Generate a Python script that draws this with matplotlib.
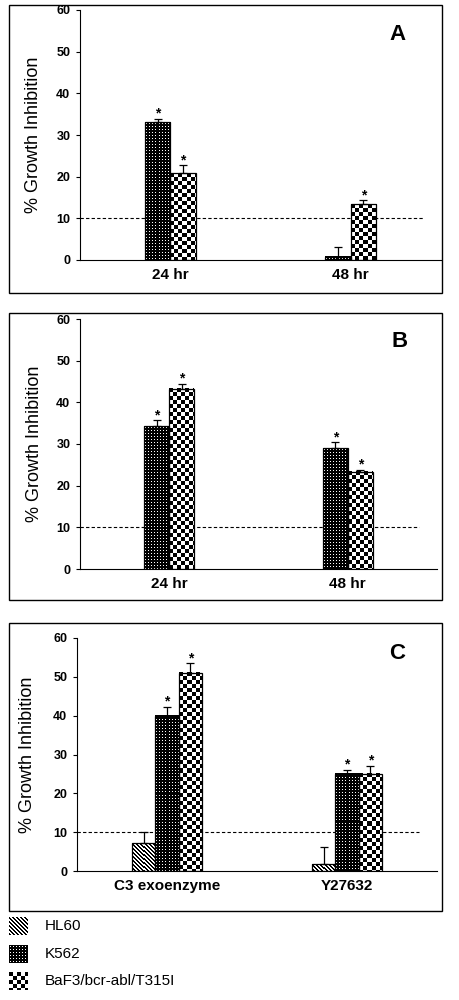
import numpy as np
import matplotlib.pyplot as plt
from matplotlib.patches import Rectangle

plt.rcParams['font.family'] = ['Liberation Sans', 'DejaVu Sans']

FIG_W, FIG_H = 460, 1000

# data
times = ["24 hr", "48 hr"]
drugs = ["C3 exoenzyme", "Y27632"]
cell_lines = ["HL60", "K562", "BaF3/bcr-abl/T315I"]

a_k562 = [33.1, 0.8]
a_k562_err = [0.7, 2.4]
a_k562_sig = [True, False]
a_baf3 = [20.8, 13.4]
a_baf3_err = [1.9, 0.9]
a_baf3_sig = [True, True]

b_k562 = [34.3, 29.0]
b_k562_err = [1.4, 1.4]
b_k562_sig = [True, True]
b_baf3 = [43.3, 23.4]
b_baf3_err = [1.2, 0.4]
b_baf3_sig = [True, True]

c_hl60 = [7.1, 1.8]
c_hl60_err = [2.9, 4.3]
c_hl60_sig = [False, False]
c_k562 = [40.0, 25.0]
c_k562_err = [2.3, 1.0]
c_k562_sig = [True, True]
c_baf3 = [51.0, 25.0]
c_baf3_err = [2.5, 2.1]
c_baf3_sig = [True, True]

threshold = 10


def texture(kind, h, w):
    i, j = np.mgrid[0:h, 0:w]
    if kind == "dots":
        return ((i % 3 == 1) & (j % 3 == 1)).astype(float)
    if kind == "checker":
        return ((i // 4 + j // 4) % 2).astype(float)
    return ((i - j) % 4 >= 2).astype(float)  # diagonal stripes


def textured_bars(ax, x, heights, errs, sig, width, kind):
    bars = ax.bar(x, heights, width, facecolor="none", edgecolor="black",
                  lw=0.9, zorder=3)
    for b in bars:
        x0, y0 = b.get_x(), b.get_y()
        x1, y1 = x0 + b.get_width(), y0 + b.get_height()
        (px0, py0), (px1, py1) = ax.transData.transform([(x0, y0), (x1, y1)])
        w = max(1, int(round(px1 - px0)))
        h = max(1, int(round(py1 - py0)))
        ax.imshow(texture(kind, h, w), cmap="gray", vmin=0, vmax=1,
                  extent=(x0, x1, y0, y1), aspect="auto",
                  interpolation="none", zorder=2)
    ax.errorbar(x, heights, yerr=[np.zeros(len(errs)), errs], fmt="none",
                ecolor="black", elinewidth=0.9, capsize=3, capthick=0.9, zorder=4)
    for xi, hi, ei, s in zip(x, heights, errs, sig):
        if s:
            ax.text(xi, hi + ei + 0.3, "*", ha="center", va="baseline",
                    fontsize=10, fontweight="bold")


def setup(ax, labels, letter, letter_xy):
    ax.set_xlim(-0.5, 1.5)
    ax.set_ylim(0, 60)
    ax.set_yticks(range(0, 61, 10))
    ax.set_xticks([0, 1])
    ax.set_xticklabels(labels, fontweight="bold", fontsize=11)
    ax.tick_params(axis="x", length=0, pad=6)
    ax.tick_params(axis="y", length=3, width=0.8, pad=4, labelsize=9)
    for lab in ax.get_yticklabels():
        lab.set_fontweight("bold")
    ax.spines["top"].set_visible(False)
    ax.spines["right"].set_visible(False)
    ax.spines["left"].set_linewidth(0.8)
    ax.spines["bottom"].set_linewidth(0.8)
    ax.plot([-0.5, 1.4], [threshold, threshold], ls=(0, (3, 2)),
            color="black", lw=0.8, zorder=1)
    ax.set_ylabel("% Growth Inhibition", fontsize=13)
    ax.text(letter_xy[0], letter_xy[1], letter, fontsize=16,
            fontweight="bold", ha="center", va="center")


def px_axes(fig, x0, y0, x1, y1):
    return fig.add_axes([x0 / FIG_W, 1 - y1 / FIG_H,
                         (x1 - x0) / FIG_W, (y1 - y0) / FIG_H])


fig = plt.figure(figsize=(FIG_W / 100, FIG_H / 100), dpi=100)

# boxes round each panel
for top, bottom in [(5, 293), (313, 600), (623, 911)]:
    fig.add_artist(Rectangle((9 / FIG_W, 1 - bottom / FIG_H),
                             433 / FIG_W, (bottom - top) / FIG_H,
                             transform=fig.transFigure, fill=False,
                             edgecolor="black", lw=1))

pos = np.arange(len(times))
w2 = 0.14

# Panel A
ax = px_axes(fig, 80, 10, 441, 260)
setup(ax, times, "A", (1.26, 54))
textured_bars(ax, pos - w2 / 2, a_k562, a_k562_err, a_k562_sig, w2, "dots")
textured_bars(ax, pos + w2 / 2, a_baf3, a_baf3_err, a_baf3_sig, w2, "checker")
ax.set_xlim(-0.5, 1.5)
ax.set_ylim(0, 60)
ax.yaxis.set_label_coords(-0.105, 0.5)

# Panel B
ax = px_axes(fig, 80, 319, 437, 569)
setup(ax, times, "B", (1.29, 54.5))
textured_bars(ax, pos - w2 / 2, b_k562, b_k562_err, b_k562_sig, w2, "dots")
textured_bars(ax, pos + w2 / 2, b_baf3, b_baf3_err, b_baf3_sig, w2, "checker")
ax.set_xlim(-0.5, 1.5)
ax.set_ylim(0, 60)
ax.yaxis.set_label_coords(-0.105, 0.5)

# Panel C
w3 = 0.13
ax = px_axes(fig, 77, 638, 437, 871)
setup(ax, drugs, "C", (1.28, 56))
textured_bars(ax, pos - w3, c_hl60, c_hl60_err, c_hl60_sig, w3, "stripes")
textured_bars(ax, pos, c_k562, c_k562_err, c_k562_sig, w3, "dots")
textured_bars(ax, pos + w3, c_baf3, c_baf3_err, c_baf3_sig, w3, "checker")
ax.set_xlim(-0.5, 1.5)
ax.set_ylim(0, 60)
ax.yaxis.set_label_coords(-0.114, 0.5)

# legend below the last panel
lg = fig.add_axes([0, 0, 1, 1])
lg.set_xlim(0, FIG_W)
lg.set_ylim(FIG_H, 0)
lg.axis("off")
for name, kind, top in zip(cell_lines, ["stripes", "dots", "checker"], [917, 945, 972]):
    lg.imshow(texture(kind, 18, 19), cmap="gray", vmin=0, vmax=1,
              extent=(9, 28, top + 18, top), aspect="auto", interpolation="none")
    lg.text(45, top + 9, name, fontsize=11, va="center", ha="left")
lg.set_xlim(0, FIG_W)
lg.set_ylim(FIG_H, 0)

fig.savefig("out.png", dpi=100)
